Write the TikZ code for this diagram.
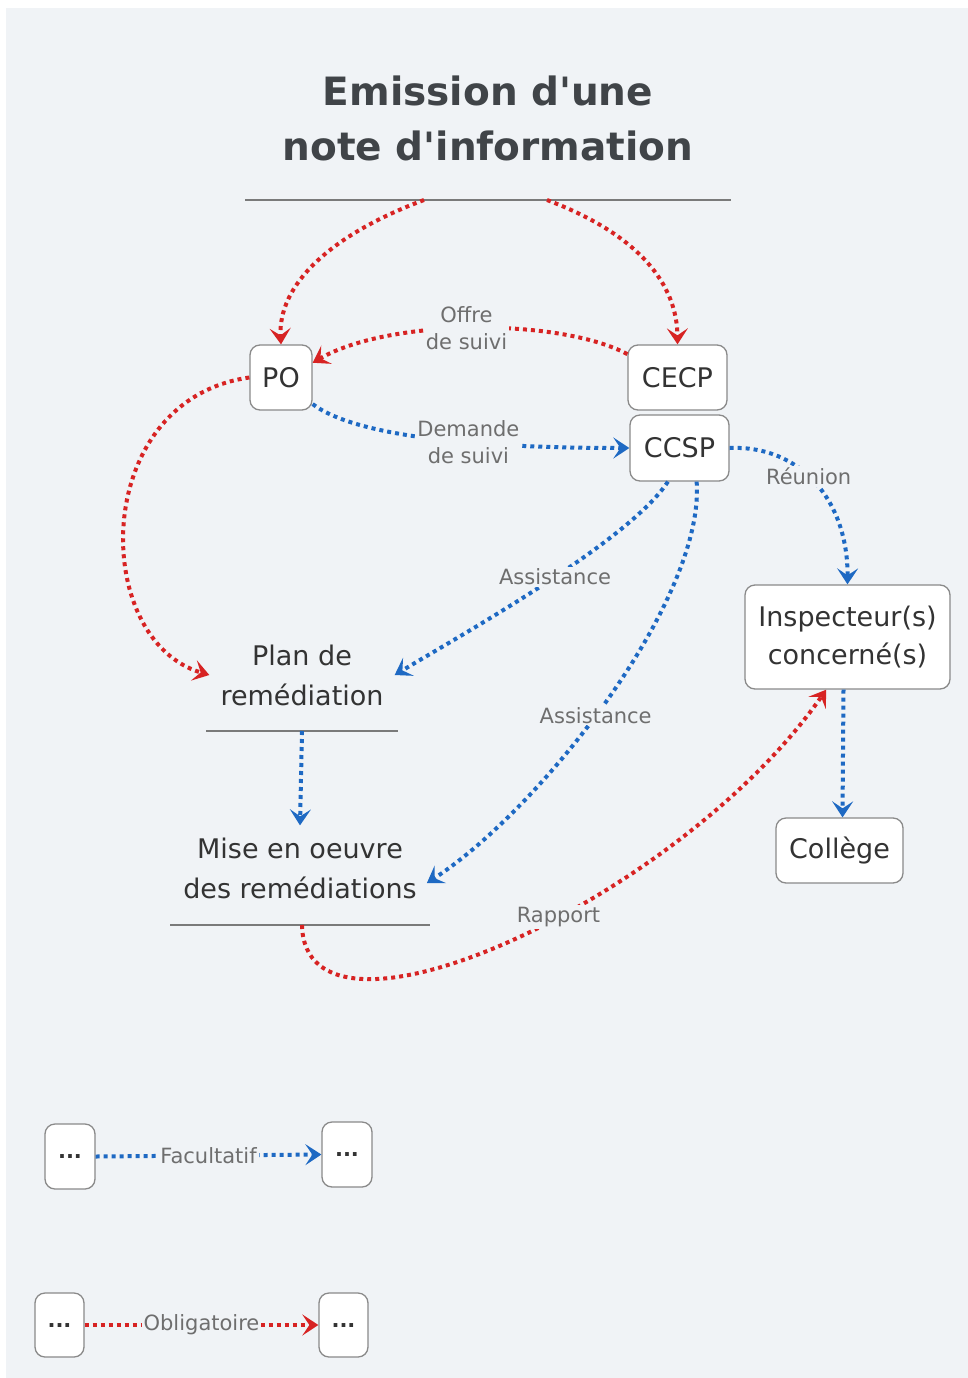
\documentclass[tikz,border=0pt]{standalone}
\usepackage{fontspec}
\setmainfont{DejaVu Sans}[Ligatures=TeXOff]
\usetikzlibrary{arrows.meta}
\definecolor{bg}{HTML}{F0F3F6}
\definecolor{redl}{RGB}{215,35,35}
\definecolor{bluel}{RGB}{30,105,195}
\definecolor{txt}{HTML}{333333}
\definecolor{ttl}{HTML}{404448}
\definecolor{lblc}{HTML}{6E6E6E}
\definecolor{brd}{HTML}{8A8A8A}
\definecolor{rulec}{HTML}{7A7A7A}
\begin{document}
\begin{tikzpicture}[x=1pt,y=-1pt,
  box/.style={draw=brd, line width=1.3pt, fill=white, rounded corners=10pt, text=txt,
    font=\fontsize{27}{38}\selectfont, inner sep=0pt, align=center},
  smallbox/.style={box, font=\fontsize{21}{24}\selectfont\bfseries},
  plain/.style={text=txt, font=\fontsize{27}{40}\selectfont, align=center, inner ysep=12pt},
  lbl/.style={text=lblc, font=\fontsize{21}{27}\selectfont, fill=bg, inner sep=2pt, align=center},
  dotline/.style={line width=4pt, dash pattern=on 4pt off 4pt},
  oblig/.style={dotline, draw=redl, -{Stealth[length=16pt,width=21pt,inset=7pt]}},
  facult/.style={dotline, draw=bluel, -{Stealth[length=16pt,width=21pt,inset=7pt]}},
  rule/.style={draw=rulec, line width=1.3pt}
]
\useasboundingbox (0,0) rectangle (968,1378);
\fill[bg] (6,8) rectangle (968,1378);

% title
\node[text=ttl, font=\fontsize{39}{55}\selectfont\bfseries, align=center] (title) at (488,118)
  {Emission d'une\\note d'information};
\coordinate (tl) at (245,200);
\coordinate (tr) at (731,200);
\draw[rule] (tl) -- (tr);
\coordinate (t1) at (424,200);
\coordinate (t2) at (547,200);

% boxes
\node[box, minimum width=62, minimum height=65] (po) at (281,377.5) {PO};
\node[box, minimum width=99, minimum height=65] (cecp) at (677.5,377.5) {CECP};
\node[box, minimum width=99, minimum height=66] (ccsp) at (679.5,448) {CCSP};
\node[box, minimum width=205, minimum height=104] (insp) at (847.5,637) {Inspecteur(s)\\concerné(s)};
\node[box, minimum width=127, minimum height=65] (college) at (839.5,850.5) {Collège};

% plain steps
\node[plain, inner xsep=11pt] (plan) at (302,675) {Plan de\\remédiation};
\coordinate (pl) at (206,731);
\coordinate (pr) at (398,731);
\draw[rule] (pl) -- (pr);
\coordinate (pu) at (302,731);
\node[plain, inner xsep=10pt] (mise) at (300,868) {Mise en oeuvre\\des remédiations};
\coordinate (ml) at (170,925);
\coordinate (mr) at (430,925);
\draw[rule] (ml) -- (mr);
\coordinate (mu) at (302,925);

% connectors
\draw[oblig] (t1) .. controls (330,235) and (278,285) .. (po.north);
\draw[oblig] (t2) .. controls (640,235) and (677,285) .. (cecp.north);
\draw[oblig] (cecp.155) .. controls (560,318) and (390,318) .. node[lbl, pos=0.52] {Offre\\de suivi} (po.25);
\draw[facult] (po.-40) .. controls (360,440) and (500,448) .. node[lbl, pos=0.58] {Demande\\de suivi} (ccsp.west);
\draw[facult] (ccsp.east) .. controls (800,445) and (848,500) .. node[lbl, pos=0.45] {Réunion} (insp.north);
\draw[oblig] (po.west) .. controls (90,400) and (90,640) .. (plan.west);
\draw[facult] (ccsp.-109) .. controls (630,540) and (470,630) .. node[lbl, pos=0.47] {Assistance} (plan.east);
\draw[facult] (ccsp.-63) .. controls (705,600) and (540,810) .. node[lbl, pos=0.535] {Assistance} ([yshift=-15pt]mise.east);
\draw[facult] (pu) -- (mise.north);
\draw[oblig] (mu) .. controls (305,1070) and (680,900) .. node[lbl, pos=0.57] {Rapport} (insp.-112);
\draw[facult] ([xshift=-4pt]insp.south) -- ([xshift=3pt]college.north);

% legend
\node[smallbox, minimum width=50, minimum height=65] (la) at (70,1156.5) {...};
\node[smallbox, minimum width=50, minimum height=65] (lb) at (347,1154.5) {...};
\node[smallbox, minimum width=49, minimum height=64] (lc) at (59.5,1325) {...};
\node[smallbox, minimum width=49, minimum height=64] (ld) at (343.5,1325) {...};
\draw[facult] (la.east) -- node[lbl] {Facultatif} (lb.west);
\draw[oblig] (lc.east) -- node[lbl] {Obligatoire} (ld.west);
\end{tikzpicture}
\end{document}
